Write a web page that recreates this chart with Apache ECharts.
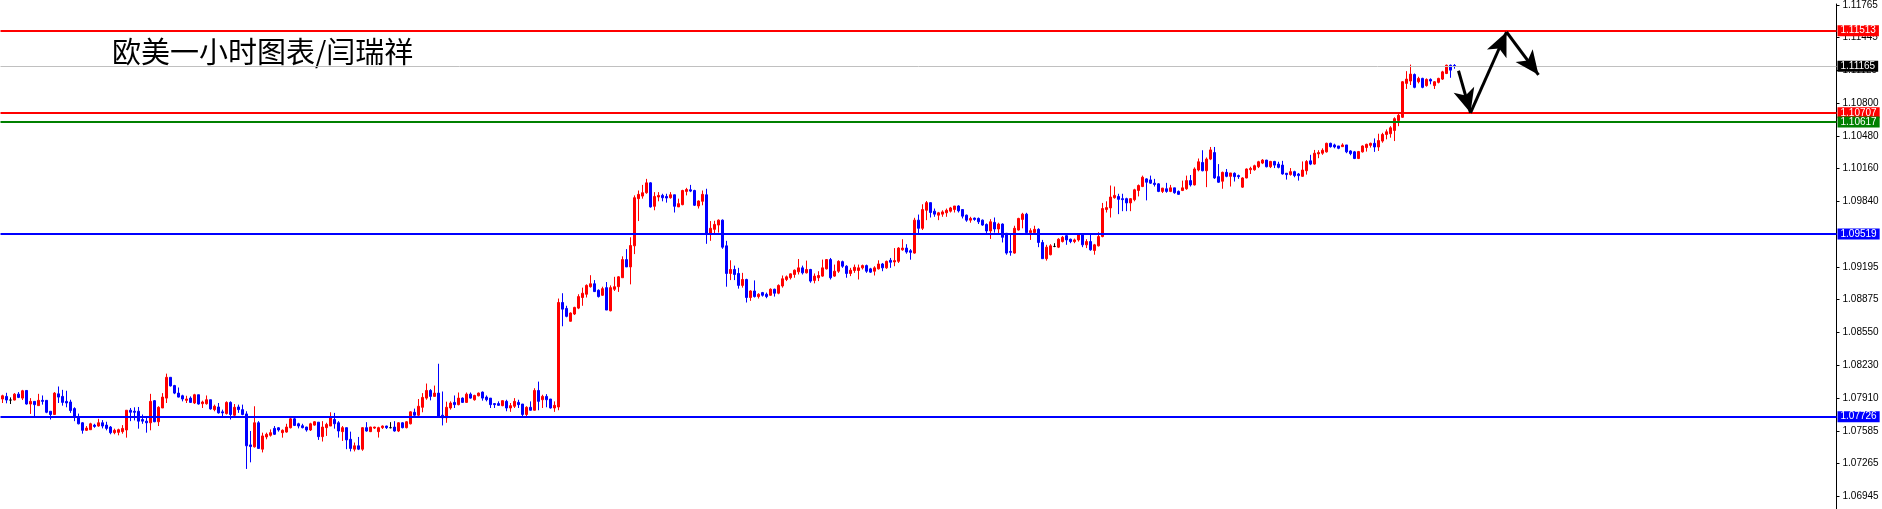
<!DOCTYPE html>
<html><head><meta charset="utf-8">
<script src="https://cdn.jsdelivr.net/npm/echarts@6/dist/echarts.min.js"></script>
<style>html,body{margin:0;padding:0;background:#fff;overflow:hidden}#c{width:1882px;height:509px}</style>
</head><body><div id="c"></div>
<script>
const titleText = '欧美一小时图表/闫瑞祥';
const slotCount = 459;

const opens = [
1.07899,1.07925,1.07889,1.07889,1.07947,1.07908,1.07983,1.07850,1.07876,1.07834,
1.07886,1.07886,1.07779,1.07747,1.07950,1.07925,1.07876,1.07870,1.07805,1.07724,
1.07666,1.07592,1.07598,1.07643,1.07634,1.07666,1.07643,1.07624,1.07569,1.07572,
1.07579,1.07595,1.07789,1.07779,1.07779,1.07698,1.07682,1.07666,1.07883,1.07676,
1.07811,1.07908,1.08112,1.08031,1.07957,1.07931,1.07886,1.07908,1.07860,1.07941,
1.07853,1.07853,1.07892,1.07795,1.07821,1.07773,1.07756,1.07866,1.07740,1.07821,
1.07795,1.07753,1.07449,1.07430,1.07666,1.07407,1.07527,1.07543,1.07611,1.07617,
1.07569,1.07575,1.07617,1.07705,1.07656,1.07637,1.07624,1.07595,1.07643,1.07672,
1.07530,1.07618,1.07634,1.07698,1.07666,1.07579,1.07618,1.07504,1.07407,1.07440,
1.07407,1.07618,1.07579,1.07614,1.07579,1.07618,1.07634,1.07618,1.07624,1.07585,
1.07666,1.07618,1.07656,1.07769,1.07740,1.07818,1.07908,1.07983,1.07925,1.07957,
1.07740,1.07715,1.07811,1.07866,1.07844,1.07908,1.07866,1.07947,1.07892,1.07931,
1.07967,1.07918,1.07908,1.07854,1.07854,1.07834,1.07876,1.07811,1.07828,1.07866,
1.07850,1.07747,1.07818,1.07789,1.07983,1.07892,1.07925,1.07899,1.07811,1.07821,
1.08846,1.08788,1.08662,1.08733,1.08791,1.08895,1.08927,1.09001,1.09030,1.08966,
1.08917,1.08992,1.08765,1.08976,1.09001,1.09089,1.09267,1.09195,1.09402,1.09865,
1.09890,1.09923,1.10020,1.09790,1.09881,1.09897,1.09887,1.09874,1.09903,1.09784,
1.09806,1.09936,1.09952,1.09945,1.09793,1.09839,1.09903,1.09515,1.09564,1.09606,
1.09654,1.09402,1.09131,1.09170,1.09131,1.09014,1.09072,1.08895,1.08959,1.08904,
1.08943,1.08927,1.08917,1.08976,1.08937,1.09008,1.09072,1.09089,1.09121,1.09147,
1.09186,1.09137,1.09170,1.09063,1.09089,1.09105,1.09176,1.09267,1.09105,1.09153,
1.09247,1.09202,1.09131,1.09160,1.09160,1.09186,1.09208,1.09176,1.09153,1.09176,
1.09224,1.09186,1.09260,1.09244,1.09250,1.09363,1.09380,1.09354,1.09331,1.09654,
1.09574,1.09751,1.09826,1.09742,1.09703,1.09713,1.09726,1.09742,1.09758,1.09793,
1.09758,1.09703,1.09654,1.09674,1.09671,1.09654,1.09612,1.09548,1.09632,1.09567,
1.09616,1.09525,1.09347,1.09331,1.09557,1.09661,1.09713,1.09532,1.09532,1.09564,
1.09435,1.09276,1.09315,1.09396,1.09389,1.09444,1.09502,1.09467,1.09444,1.09460,
1.09515,1.09412,1.09444,1.09357,1.09402,1.09493,1.09758,1.09774,1.09874,1.09887,
1.09865,1.09865,1.09823,1.09855,1.09945,1.09984,1.10059,1.10049,1.10017,1.10010,
1.09936,1.09962,1.09936,1.09971,1.09936,1.09945,1.09962,1.10042,1.10000,1.10146,
1.10220,1.10139,1.10253,1.10317,1.10081,1.10036,1.10123,1.10084,1.10114,1.10091,
1.09978,1.10068,1.10149,1.10149,1.10178,1.10214,1.10243,1.10178,1.10230,1.10204,
1.10194,1.10114,1.10101,1.10130,1.10107,1.10084,1.10139,1.10236,1.10204,1.10304,
1.10311,1.10324,1.10408,1.10392,1.10382,1.10375,1.10392,1.10333,1.10324,1.10259,
1.10324,1.10366,1.10388,1.10408,1.10372,1.10430,1.10495,1.10502,1.10534,1.10631,
1.10663,1.10996,1.11019,1.11083,1.11012,1.11045,1.10974,1.11035,1.10974,1.11006,
1.11038,1.11093,1.11174,1.11172
];

const closes = [
1.07931,1.07889,1.07889,1.07947,1.07915,1.07980,1.07850,1.07876,1.07844,1.07886,
1.07876,1.07769,1.07747,1.07957,1.07918,1.07866,1.07860,1.07786,1.07721,1.07656,
1.07592,1.07614,1.07656,1.07630,1.07666,1.07634,1.07611,1.07569,1.07592,1.07598,
1.07611,1.07789,1.07769,1.07769,1.07682,1.07682,1.07666,1.07876,1.07676,1.07818,
1.07918,1.08112,1.08028,1.07957,1.07918,1.07899,1.07899,1.07866,1.07941,1.07850,
1.07870,1.07892,1.07802,1.07828,1.07763,1.07763,1.07866,1.07747,1.07818,1.07795,
1.07747,1.07440,1.07433,1.07666,1.07414,1.07537,1.07553,1.07569,1.07553,1.07595,
1.07592,1.07624,1.07705,1.07640,1.07634,1.07618,1.07595,1.07656,1.07676,1.07530,
1.07624,1.07650,1.07715,1.07656,1.07585,1.07618,1.07498,1.07414,1.07440,1.07407,
1.07618,1.07585,1.07624,1.07624,1.07618,1.07634,1.07618,1.07618,1.07585,1.07666,
1.07618,1.07676,1.07773,1.07740,1.07828,1.07915,1.07983,1.07925,1.07957,1.07731,
1.07715,1.07818,1.07860,1.07844,1.07908,1.07866,1.07947,1.07908,1.07934,1.07957,
1.07908,1.07892,1.07844,1.07844,1.07837,1.07883,1.07811,1.07834,1.07876,1.07844,
1.07747,1.07818,1.07789,1.07983,1.07876,1.07925,1.07892,1.07811,1.07837,1.08846,
1.08781,1.08710,1.08743,1.08798,1.08904,1.08937,1.09014,1.09030,1.08953,1.08904,
1.08982,1.08772,1.08992,1.09001,1.09098,1.09267,1.09195,1.09405,1.09874,1.09907,
1.09923,1.10020,1.09784,1.09887,1.09897,1.09874,1.09871,1.09903,1.09790,1.09816,
1.09945,1.09955,1.09939,1.09800,1.09842,1.09907,1.09515,1.09574,1.09612,1.09654,
1.09389,1.09131,1.09170,1.09121,1.09014,1.09072,1.08895,1.08959,1.08904,1.08927,
1.08917,1.08904,1.08976,1.08937,1.09014,1.09079,1.09098,1.09127,1.09163,1.09186,
1.09137,1.09170,1.09056,1.09105,1.09111,1.09186,1.09267,1.09089,1.09153,1.09250,
1.09202,1.09131,1.09163,1.09192,1.09186,1.09208,1.09153,1.09144,1.09186,1.09224,
1.09186,1.09250,1.09241,1.09257,1.09380,1.09380,1.09341,1.09338,1.09654,1.09574,
1.09758,1.09826,1.09729,1.09713,1.09726,1.09735,1.09751,1.09774,1.09793,1.09745,
1.09693,1.09654,1.09671,1.09661,1.09638,1.09606,1.09548,1.09638,1.09567,1.09616,
1.09486,1.09331,1.09338,1.09574,1.09671,1.09713,1.09532,1.09551,1.09564,1.09435,
1.09276,1.09389,1.09402,1.09396,1.09467,1.09486,1.09460,1.09444,1.09460,1.09515,
1.09412,1.09444,1.09363,1.09412,1.09493,1.09768,1.09777,1.09881,1.09897,1.09858,
1.09855,1.09823,1.09865,1.09952,1.09994,1.10075,1.10026,1.10017,1.10004,1.09936,
1.09968,1.09936,1.09971,1.09923,1.09907,1.09971,1.10042,1.10000,1.10156,1.10227,
1.10139,1.10253,1.10343,1.10068,1.10026,1.10123,1.10084,1.10117,1.10081,1.10081,
1.10068,1.10156,1.10162,1.10188,1.10227,1.10243,1.10178,1.10230,1.10194,1.10172,
1.10107,1.10101,1.10130,1.10091,1.10091,1.10146,1.10230,1.10204,1.10311,1.10317,
1.10340,1.10408,1.10375,1.10372,1.10359,1.10392,1.10324,1.10307,1.10259,1.10327,
1.10382,1.10398,1.10408,1.10372,1.10435,1.10495,1.10521,1.10560,1.10650,1.10683,
1.11012,1.11038,1.11087,1.10957,1.11045,1.10957,1.11035,1.11019,1.11012,1.11045,
1.11109,1.11174,1.11126,1.11165
];

const lows = [
1.07860,1.07857,1.07850,1.07886,1.07908,1.07889,1.07844,1.07753,1.07721,1.07834,
1.07844,1.07760,1.07698,1.07747,1.07860,1.07834,1.07818,1.07763,1.07682,1.07650,
1.07559,1.07585,1.07595,1.07617,1.07627,1.07611,1.07592,1.07553,1.07553,1.07543,
1.07559,1.07520,1.07682,1.07689,1.07608,1.07656,1.07569,1.07592,1.07672,1.07634,
1.07811,1.07860,1.08022,1.07947,1.07915,1.07876,1.07860,1.07860,1.07850,1.07844,
1.07811,1.07844,1.07795,1.07779,1.07756,1.07714,1.07747,1.07698,1.07731,1.07763,
1.07740,1.07213,1.07278,1.07423,1.07414,1.07375,1.07504,1.07530,1.07546,1.07579,
1.07520,1.07569,1.07611,1.07634,1.07611,1.07611,1.07579,1.07585,1.07637,1.07498,
1.07482,1.07537,1.07634,1.07608,1.07521,1.07488,1.07407,1.07385,1.07385,1.07398,
1.07391,1.07579,1.07575,1.07605,1.07521,1.07605,1.07605,1.07611,1.07579,1.07575,
1.07611,1.07611,1.07650,1.07731,1.07731,1.07769,1.07892,1.07886,1.07925,1.07724,
1.07640,1.07666,1.07795,1.07811,1.07837,1.07860,1.07860,1.07902,1.07883,1.07925,
1.07883,1.07876,1.07811,1.07811,1.07834,1.07828,1.07779,1.07773,1.07811,1.07811,
1.07715,1.07715,1.07786,1.07786,1.07789,1.07811,1.07818,1.07805,1.07773,1.07789,
1.08613,1.08701,1.08659,1.08723,1.08781,1.08814,1.08895,1.08992,1.08950,1.08895,
1.08911,1.08772,1.08759,1.08959,1.08950,1.09089,1.09195,1.09024,1.09321,1.09645,
1.09865,1.09913,1.09777,1.09751,1.09839,1.09839,1.09826,1.09865,1.09729,1.09784,
1.09800,1.09897,1.09929,1.09793,1.09768,1.09800,1.09422,1.09451,1.09525,1.09532,
1.09373,1.09001,1.09066,1.09066,1.08982,1.08992,1.08846,1.08862,1.08895,1.08885,
1.08904,1.08888,1.08911,1.08904,1.08927,1.08992,1.09056,1.09072,1.09089,1.09121,
1.09121,1.09131,1.09040,1.09034,1.09056,1.09098,1.09170,1.09072,1.09098,1.09137,
1.09186,1.09089,1.09105,1.09137,1.09072,1.09170,1.09137,1.09137,1.09111,1.09170,
1.09153,1.09176,1.09186,1.09202,1.09234,1.09354,1.09325,1.09266,1.09325,1.09509,
1.09557,1.09654,1.09680,1.09687,1.09654,1.09687,1.09687,1.09729,1.09729,1.09729,
1.09671,1.09638,1.09629,1.09648,1.09616,1.09599,1.09519,1.09470,1.09532,1.09509,
1.09435,1.09315,1.09305,1.09325,1.09551,1.09574,1.09525,1.09460,1.09519,1.09389,
1.09276,1.09257,1.09309,1.09389,1.09380,1.09435,1.09412,1.09428,1.09428,1.09444,
1.09389,1.09380,1.09354,1.09315,1.09396,1.09486,1.09729,1.09680,1.09865,1.09713,
1.09742,1.09742,1.09742,1.09839,1.09887,1.09978,1.09848,1.10010,1.09984,1.09929,
1.09920,1.09923,1.09929,1.09913,1.09903,1.09939,1.09952,1.09984,1.09994,1.10133,
1.10133,1.09978,1.10243,1.10059,1.10020,1.09962,1.10075,1.09984,1.10033,1.10059,
1.09971,1.10065,1.10107,1.10139,1.10165,1.10204,1.10172,1.10165,1.10165,1.10162,
1.10101,1.10052,1.10091,1.10075,1.10042,1.10078,1.10101,1.10194,1.10198,1.10262,
1.10295,1.10317,1.10366,1.10359,1.10350,1.10372,1.10311,1.10291,1.10253,1.10253,
1.10317,1.10327,1.10366,1.10324,1.10333,1.10414,1.10447,1.10463,1.10430,1.10576,
1.10657,1.10941,1.10980,1.10948,1.10996,1.10948,1.10964,1.10987,1.10941,1.10996,
1.11029,1.11087,1.11051,1.11140
];

const highs = [
1.07941,1.07960,1.07915,1.07957,1.07967,1.07989,1.07983,1.07908,1.07876,1.07950,
1.07934,1.07886,1.07779,1.07967,1.08022,1.07989,1.07980,1.07892,1.07818,1.07756,
1.07672,1.07634,1.07666,1.07656,1.07705,1.07692,1.07676,1.07634,1.07608,1.07608,
1.07643,1.07789,1.07811,1.07818,1.07821,1.07747,1.07714,1.07950,1.07889,1.07828,
1.07957,1.08148,1.08112,1.08038,1.08012,1.07941,1.07931,1.07925,1.07950,1.07941,
1.07883,1.07934,1.07892,1.07844,1.07860,1.07795,1.07876,1.07876,1.07850,1.07844,
1.07844,1.07779,1.07585,1.07828,1.07682,1.07569,1.07569,1.07601,1.07634,1.07624,
1.07601,1.07656,1.07714,1.07731,1.07666,1.07656,1.07627,1.07666,1.07682,1.07672,
1.07682,1.07666,1.07769,1.07763,1.07682,1.07634,1.07618,1.07579,1.07472,1.07527,
1.07624,1.07672,1.07627,1.07627,1.07627,1.07640,1.07637,1.07672,1.07682,1.07672,
1.07672,1.07682,1.07779,1.07805,1.07899,1.07957,1.08051,1.07996,1.08031,1.08245,
1.07973,1.07873,1.07876,1.07934,1.07963,1.07915,1.07963,1.07963,1.07941,1.07963,
1.07973,1.07934,1.07908,1.07860,1.07876,1.07886,1.07892,1.07860,1.07908,1.07892,
1.07850,1.07828,1.07876,1.08005,1.08070,1.07941,1.07947,1.07899,1.07876,1.08885,
1.08937,1.08814,1.08749,1.08804,1.08927,1.08992,1.09024,1.09114,1.09066,1.08975,
1.09001,1.09047,1.09014,1.09098,1.09105,1.09299,1.09370,1.09486,1.09897,1.09945,
1.10000,1.10059,1.10026,1.09929,1.09929,1.09913,1.09913,1.09929,1.09903,1.09865,
1.09952,1.09971,1.10000,1.09952,1.09848,1.09945,1.09962,1.09645,1.09648,1.09661,
1.09661,1.09451,1.09260,1.09208,1.09186,1.09137,1.09079,1.08966,1.09063,1.08937,
1.08950,1.08943,1.08985,1.08982,1.09024,1.09111,1.09111,1.09131,1.09170,1.09273,
1.09208,1.09257,1.09176,1.09131,1.09153,1.09267,1.09273,1.09283,1.09218,1.09260,
1.09257,1.09212,1.09186,1.09218,1.09218,1.09218,1.09218,1.09186,1.09202,1.09260,
1.09234,1.09257,1.09283,1.09380,1.09389,1.09467,1.09418,1.09370,1.09677,1.09709,
1.09810,1.09842,1.09826,1.09768,1.09735,1.09751,1.09768,1.09784,1.09793,1.09800,
1.09758,1.09709,1.09687,1.09680,1.09680,1.09661,1.09622,1.09664,1.09680,1.09629,
1.09622,1.09525,1.09525,1.09599,1.09677,1.09726,1.09726,1.09574,1.09599,1.09574,
1.09460,1.09412,1.09418,1.09428,1.09477,1.09499,1.09515,1.09473,1.09473,1.09525,
1.09515,1.09467,1.09515,1.09421,1.09535,1.09823,1.09839,1.09994,1.09984,1.09913,
1.09913,1.09874,1.09871,1.09962,1.10004,1.10091,1.10065,1.10091,1.10059,1.10017,
1.09971,1.10020,1.10000,1.09971,1.09945,1.10042,1.10091,1.10097,1.10172,1.10259,
1.10340,1.10269,1.10372,1.10372,1.10204,1.10130,1.10156,1.10117,1.10123,1.10101,
1.10075,1.10162,1.10178,1.10198,1.10236,1.10253,1.10246,1.10236,1.10236,1.10227,
1.10236,1.10117,1.10165,1.10139,1.10117,1.10230,1.10243,1.10295,1.10343,1.10340,
1.10359,1.10414,1.10414,1.10404,1.10382,1.10408,1.10392,1.10340,1.10333,1.10333,
1.10388,1.10404,1.10414,1.10456,1.10502,1.10511,1.10544,1.10576,1.10663,1.10696,
1.11019,1.11116,1.11180,1.11093,1.11061,1.11051,1.11045,1.11045,1.11019,1.11051,
1.11119,1.11180,1.11180,1.11185
];

const tickValues = [1.11765,1.11445,1.11125,1.10800,1.10480,1.10160,1.09840,1.09195,1.08875,1.08550,1.08230,1.07910,1.07585,1.07265,1.06945];
const levelValues = [1.11513,1.11165,1.10707,1.10617,1.09519,1.07726];
const arrowPoints = [[364,1.11120],[367,1.10707],[376,1.11500],[384,1.11080]];
const yRange = [1.06820, 1.11775];

const levelStyle = [
  {line:'#ff0000', box:'#ff0000', w:2},
  {line:'#c0c0c0', box:'#000000', w:1},
  {line:'#ff0000', box:'#ff0000', w:2},
  {line:'#008000', box:'#008000', w:2},
  {line:'#0000ff', box:'#0000ff', w:2},
  {line:'#0000ff', box:'#0000ff', w:2}
];

const slots = [];
for (let i = 0; i < slotCount; i++) slots.push(String(i));
const candles = opens.map((o, i) => [o, closes[i], lows[i], highs[i]]);

const levelLines = levelValues.map((v, i) => ({
  yAxis: v,
  lineStyle: {color: levelStyle[i].line, width: levelStyle[i].w, type: 'solid'},
  label: {
    show: true, position: 'end', distance: 1,
    formatter: () => v.toFixed(5),
    color: '#ffffff', backgroundColor: levelStyle[i].box,
    padding: [1, 3, 0, 3], fontSize: 10, lineHeight: 10,
    fontFamily: 'Liberation Sans'
  }
}));

const arrowLines = [];
for (let i = 0; i + 1 < arrowPoints.length; i++) {
  arrowLines.push([{coord: arrowPoints[i]}, {coord: arrowPoints[i + 1]}]);
}

const chart = echarts.init(document.getElementById('c'), null, {renderer: 'canvas'});
chart.setOption({
  animation: false,
  backgroundColor: '#ffffff',
  grid: {left: 0.5, right: 45.5, top: 0, bottom: 0, containLabel: false},
  xAxis: {type: 'category', data: slots, boundaryGap: true, show: false},
  yAxis: {
    type: 'value', position: 'right', min: yRange[0], max: yRange[1],
    splitLine: {show: false},
    axisLine: {show: true, lineStyle: {color: '#000', width: 1}},
    axisTick: {show: true, customValues: tickValues, length: 3, lineStyle: {color: '#000'}},
    axisLabel: {
      customValues: tickValues, formatter: v => v.toFixed(5), color: '#000',
      fontSize: 10, fontFamily: 'Liberation Sans', margin: 6
    }
  },
  graphic: [{
    type: 'text', left: 112, top: 37,
    style: {text: titleText, fill: '#000', font: '29px "Noto Sans CJK SC"'}
  }],
  series: [
    {
      type: 'line', data: [], z: 1,
      markLine: {
        silent: true, precision: 5, symbol: ['none', 'none'], animation: false,
        data: levelLines
      }
    },
    {
      type: 'candlestick', data: candles, barWidth: 2, z: 3,
      itemStyle: {
        color: '#ff0000', color0: '#0000ff',
        borderColor: '#ff0000', borderColor0: '#0000ff', borderColorDoji: '#000000',
        borderWidth: 1
      }
    },
    {
      type: 'line', data: [], z: 4,
      markLine: {
        silent: true, precision: 5, symbol: ['none', 'arrow'], symbolSize: [16, 24], animation: false,
        label: {show: false},
        lineStyle: {color: '#000', width: 3, type: 'solid'},
        data: arrowLines
      }
    }
  ]
});
</script>
</body></html>
